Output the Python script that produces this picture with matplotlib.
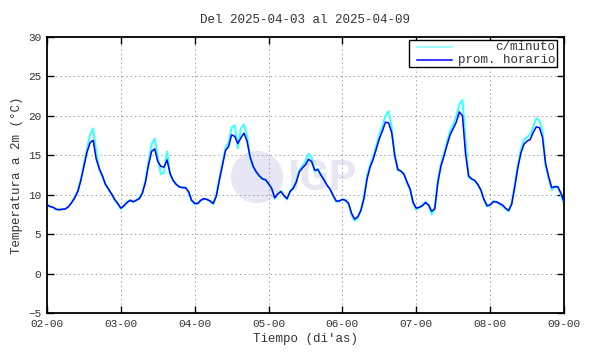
import numpy as np
import matplotlib.pyplot as plt
from matplotlib.patches import Ellipse, Rectangle
from matplotlib.lines import Line2D

# hours since 2025-04-02 00:00 (one value per hour)
horas = list(range(169))

prom_horario = [
    # day 02
    8.7, 8.5, 8.4, 8.15, 8.1, 8.15, 8.2, 8.5, 9.0, 9.6, 10.4, 11.8,
    13.6, 15.4, 16.6, 16.9, 14.5, 13.3, 12.4, 11.3, 10.7, 10.1, 9.4, 8.9,
    # day 03
    8.3, 8.6, 9.0, 9.3, 9.1, 9.3, 9.5, 10.2, 11.6, 13.8, 15.5, 15.8,
    14.2, 13.6, 13.5, 14.4, 12.7, 11.8, 11.3, 11.0, 10.9, 10.9, 10.4, 9.3,
    # day 04
    8.9, 8.9, 9.3, 9.5, 9.4, 9.2, 8.9, 9.8, 11.8, 13.7, 15.6, 16.1,
    17.6, 17.4, 16.5, 17.2, 17.8, 16.8, 14.8, 13.6, 12.9, 12.4, 12.0, 11.9,
    # day 05
    11.4, 10.8, 9.6, 10.1, 10.4, 9.9, 9.5, 10.4, 10.8, 11.6, 12.9, 13.4,
    13.8, 14.5, 14.2, 13.1, 13.2, 12.5, 11.9, 11.2, 10.7, 9.9, 9.2, 9.2,
    # day 06
    9.4, 9.3, 8.9, 7.6, 6.9, 7.2, 8.0, 9.5, 12.0, 13.5, 14.5, 15.8,
    17.1, 18.1, 19.2, 19.1, 17.9, 15.0, 13.2, 13.0, 12.6, 11.6, 10.7, 9.0,
    # day 07
    8.3, 8.4, 8.6, 9.0, 8.7, 7.9, 8.2, 11.5, 13.6, 14.9, 16.3, 17.6,
    18.4, 19.2, 20.5, 20.0, 15.2, 12.4, 12.0, 11.8, 11.3, 10.6, 9.4, 8.6,
    # day 08
    8.7, 9.1, 9.1, 8.9, 8.7, 8.3, 8.0, 8.8, 11.0, 13.4, 15.3, 16.4,
    16.8, 17.0, 17.9, 18.6, 18.5, 17.3, 14.0, 12.3, 10.9, 11.0, 11.0, 10.2,
    9.1,
]

# minute data (peaks/spikes)
c_minuto = [
    8.8, 8.5, 8.4, 8.1, 8.1, 8.2, 8.2, 8.5, 9.0, 9.7, 10.5, 12.0,
    13.9, 15.8, 17.6, 18.4, 15.4, 13.2, 12.3, 11.3, 10.7, 10.0, 9.3, 8.8,
    8.2, 8.6, 9.1, 9.3, 9.1, 9.3, 9.6, 10.3, 11.8, 14.2, 16.4, 17.1,
    14.8, 12.6, 12.8, 15.5, 12.5, 11.8, 11.3, 11.0, 10.9, 10.9, 10.3, 9.2,
    8.8, 8.9, 9.3, 9.5, 9.4, 9.2, 8.8, 9.9, 12.1, 14.0, 15.9, 16.6,
    18.5, 18.8, 15.9, 18.4, 18.9, 17.4, 14.6, 13.5, 12.8, 12.3, 12.0, 11.9,
    11.4, 10.8, 9.5, 10.1, 10.5, 9.8, 9.4, 10.5, 10.9, 11.7, 13.1, 13.6,
    14.3, 15.2, 14.7, 12.9, 13.3, 12.5, 11.9, 11.2, 10.6, 9.8, 9.1, 9.2,
    9.4, 9.3, 8.8, 7.4, 6.7, 7.1, 8.1, 9.8, 12.4, 13.8, 14.8, 16.2,
    17.6, 18.7, 20.0, 20.6, 18.6, 14.8, 13.1, 13.0, 12.6, 11.5, 10.6, 8.8,
    8.1, 8.4, 8.7, 9.1, 8.6, 7.5, 8.3, 11.9, 13.9, 15.2, 16.7, 18.1,
    18.9, 19.9, 21.5, 22.0, 16.8, 12.2, 12.0, 11.8, 11.3, 10.5, 9.3, 8.5,
    8.7, 9.2, 9.1, 8.8, 8.6, 8.2, 7.9, 8.9, 11.3, 13.8, 15.7, 17.0,
    17.3, 17.6, 18.6, 19.7, 19.4, 18.1, 13.7, 12.1, 10.6, 11.1, 11.0, 10.0,
    8.8,
]

dia_labels = ["02-00", "03-00", "04-00", "05-00", "06-00", "07-00", "08-00", "09-00"]
dia_pos = [0, 24, 48, 72, 96, 120, 144, 168]
y_ticks = [-5, 0, 5, 10, 15, 20, 25, 30]

plt.rcParams["font.family"] = ["Liberation Mono", "DejaVu Sans Mono"]
txt = "#333333"
W, H = 590, 354

fig = plt.figure(figsize=(5.9, 3.54), dpi=100)
ax = fig.add_axes([47 / W, 1 - 313 / H, 517 / W, 276 / H])

# watermark logo (circle + IGP), placed in pixel terms, under the data
ax.add_artist(Ellipse((257 / W, 1 - 177 / H), 52 / W, 52 / H,
                      transform=fig.transFigure, facecolor="#e6e6f5",
                      edgecolor="none", zorder=0.5))
ax.text(288 / W, 1 - 178 / H, "IGP", fontsize=31, fontweight="bold",
        color="#e6e6f5", family="Roboto", ha="left", va="center",
        transform=fig.transFigure, zorder=0.6)

ax.plot(horas, c_minuto, color="#40ffff", lw=1.5, zorder=2)
ax.plot(horas, prom_horario, color="#0000ff", lw=1.1, zorder=3)

ax.set_xlim(0, 168)
ax.set_ylim(-5, 30)
ax.set_xticks(dia_pos)
ax.set_xticklabels(dia_labels)
ax.set_yticks(y_ticks)
ax.grid(True, color="#a0a0a0", linestyle=(0, (1.5, 3)), linewidth=0.7)
ax.tick_params(direction="in", length=5, width=1, top=True, right=True,
               labelsize=8, labelcolor=txt, pad=4)
for s in ax.spines.values():
    s.set_linewidth(1.3)

ax.set_title("Del 2025-04-03 al 2025-04-09", fontsize=9, color=txt, pad=10)
ax.set_xlabel("Tiempo (di'as)", fontsize=9, color=txt, labelpad=3)
ax.set_ylabel("Temperatura a 2m (°C)", fontsize=9, color=txt, labelpad=4)

# gnuplot-like key: lines on the left, labels right-aligned
fig.patches.append(Rectangle((409 / W, 1 - 67 / H), 148 / W, 27 / H,
                             transform=fig.transFigure, facecolor="white",
                             edgecolor="black", lw=1.0, zorder=4))
key = [("c/minuto", "#80ffff", 47), ("prom. horario", "#0000ff", 60)]
for lab, col, yy in key:
    fig.lines.append(Line2D([417 / W, 452 / W], [1 - yy / H, 1 - yy / H],
                            transform=fig.transFigure, color=col, lw=1.1,
                            zorder=5))
    fig.text(555 / W, 1 - yy / H, lab, fontsize=9, color=txt, ha="right",
             va="center", zorder=5)

fig.savefig("out.png", dpi=100)
